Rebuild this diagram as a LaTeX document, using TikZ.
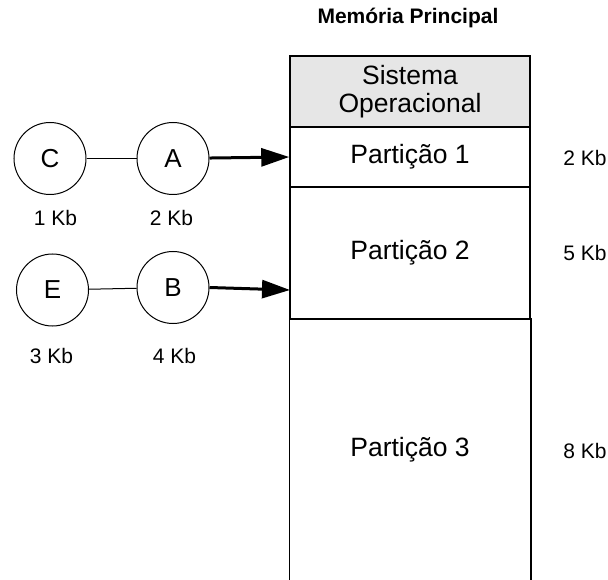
\documentclass[tikz,border=0pt]{standalone}
\usepackage{fontspec}
\setmainfont{Liberation Sans}
\usetikzlibrary{arrows.meta}
\tikzset{
  job/.style={circle,draw,line width=1pt,minimum size=72pt,inner sep=0pt,font=\fontsize{26}{30}\selectfont},
  sizelbl/.style={inner sep=0pt,font=\fontsize{21}{25}\selectfont},
  part/.style={draw,line width=1.5pt,minimum width=240pt,inner sep=0pt,align=center,font=\fontsize{26.5}{28.5}\selectfont},
  link/.style={line width=1pt},
  feed/.style={line width=3pt,-{Triangle[length=28pt,width=18pt]}}
}
\begin{document}
\begin{tikzpicture}[x=1pt,y=-1pt]
\useasboundingbox (0,0) rectangle (608,580);
\node[inner sep=0pt,font=\fontsize{21}{25}\selectfont\bfseries] (title) at (408,18) {Memória Principal};
\node[part,fill={rgb,255:red,230;green,230;blue,230},minimum height=71pt] (so) at (410,91.5) {Sistema\\Operacional};
\node[part,minimum height=60pt] (p1) at (410,157) {Partição 1};
\node[part,minimum height=132pt] (p2) at (410,253) {Partição 2};
\node[part,draw=none,minimum height=262pt] (p3) at (410,450) {Partição 3};
\draw[line width=1.5pt] (p3.north west) -- (p3.south west);
\draw[line width=1.5pt] (p3.north east) -- (p3.south east);
\node[sizelbl] (s1) at (585,158) {2 Kb};
\node[sizelbl] (s2) at (585,253) {5 Kb};
\node[sizelbl] (s3) at (585,451) {8 Kb};
\node[job] (C) at (50,158.5) {C};
\node[job] (A) at (173,158.5) {A};
\node[job] (E) at (52.5,290) {E};
\node[job] (B) at (173,287.5) {B};
\node[sizelbl] (lc) at (55.5,218) {1 Kb};
\node[sizelbl] (la) at (171.5,218) {2 Kb};
\node[sizelbl] (le) at (51.5,356) {3 Kb};
\node[sizelbl] (lb) at (174.5,356) {4 Kb};
\coordinate (bt) at (290,290);
\draw[link] (C) -- (A);
\draw[link] (E) -- (B);
\draw[feed] (A) -- (p1.west);
\draw[feed] (B.east) -- (bt);
\end{tikzpicture}
\end{document}
